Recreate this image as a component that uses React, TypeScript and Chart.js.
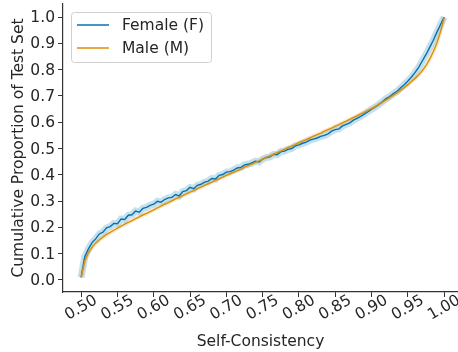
import React, { useEffect, useRef } from "react";
import { Chart, registerables } from "chart.js";

Chart.register(...registerables);

const xValues = [
  0.5, 0.505, 0.51, 0.515, 0.52, 0.525, 0.53, 0.535, 0.54, 0.545,
  0.55, 0.555, 0.56, 0.565, 0.57, 0.575, 0.58, 0.585, 0.59, 0.595,
  0.6, 0.605, 0.61, 0.615, 0.62, 0.625, 0.63, 0.635, 0.64, 0.645,
  0.65, 0.655, 0.66, 0.665, 0.67, 0.675, 0.68, 0.685, 0.69, 0.695,
  0.7, 0.705, 0.71, 0.715, 0.72, 0.725, 0.73, 0.735, 0.74, 0.745,
  0.75, 0.755, 0.76, 0.765, 0.77, 0.775, 0.78, 0.785, 0.79, 0.795,
  0.8, 0.805, 0.81, 0.815, 0.82, 0.825, 0.83, 0.835, 0.84, 0.845,
  0.85, 0.855, 0.86, 0.865, 0.87, 0.875, 0.88, 0.885, 0.89, 0.895,
  0.9, 0.905, 0.91, 0.915, 0.92, 0.925, 0.93, 0.935, 0.94, 0.945,
  0.95, 0.955, 0.96, 0.965, 0.97, 0.975, 0.98, 0.985, 0.99, 0.995,
  1.0,
];

const femaleValues = [
  0.010, 0.088, 0.118, 0.142, 0.156, 0.175, 0.182, 0.198, 0.203, 0.215,
  0.214, 0.232, 0.230, 0.246, 0.248, 0.262, 0.258, 0.272, 0.276, 0.284,
  0.288, 0.299, 0.296, 0.306, 0.312, 0.314, 0.325, 0.320, 0.336, 0.340,
  0.352, 0.347, 0.360, 0.364, 0.372, 0.376, 0.386, 0.384, 0.398, 0.401,
  0.410, 0.412, 0.418, 0.426, 0.428, 0.438, 0.440, 0.445, 0.452, 0.449,
  0.460, 0.466, 0.468, 0.478, 0.476, 0.488, 0.490, 0.497, 0.500, 0.510,
  0.514, 0.520, 0.524, 0.532, 0.536, 0.540, 0.546, 0.550, 0.556, 0.566,
  0.572, 0.575, 0.586, 0.592, 0.598, 0.608, 0.615, 0.622, 0.631, 0.640,
  0.650, 0.658, 0.668, 0.678, 0.690, 0.698, 0.709, 0.718, 0.731, 0.743,
  0.757, 0.772, 0.790, 0.810, 0.834, 0.858, 0.885, 0.912, 0.943, 0.972,
  1.000,
];

const maleValues = [
  0.010, 0.072, 0.104, 0.124, 0.140, 0.152, 0.163, 0.173, 0.181, 0.189,
  0.197, 0.205, 0.212, 0.219, 0.226, 0.233, 0.240, 0.247, 0.253, 0.260,
  0.267, 0.274, 0.281, 0.288, 0.294, 0.301, 0.308, 0.314, 0.321, 0.327,
  0.334, 0.340, 0.347, 0.353, 0.360, 0.366, 0.372, 0.379, 0.385, 0.391,
  0.398, 0.404, 0.410, 0.416, 0.422, 0.429, 0.435, 0.441, 0.447, 0.453,
  0.460, 0.466, 0.472, 0.478, 0.484, 0.490, 0.497, 0.503, 0.509, 0.515,
  0.522, 0.528, 0.534, 0.540, 0.547, 0.553, 0.559, 0.566, 0.572, 0.578,
  0.585, 0.591, 0.598, 0.604, 0.611, 0.618, 0.624, 0.631, 0.638, 0.645,
  0.652, 0.660, 0.668, 0.676, 0.685, 0.694, 0.703, 0.712, 0.722, 0.732,
  0.743, 0.755, 0.767, 0.781, 0.797, 0.816, 0.840, 0.868, 0.902, 0.945,
  1.000,
];

const xTicks = [0.5, 0.55, 0.6, 0.65, 0.7, 0.75, 0.8, 0.85, 0.9, 0.95, 1.0];
const yTicks = [0.0, 0.1, 0.2, 0.3, 0.4, 0.5, 0.6, 0.7, 0.8, 0.9, 1.0];
const seriesNames = ["Female (F)", "Male (M)"];

const BLUE = "#0173b2";
const ORANGE = "#de8f05";
const TEXT = "#262626";
const FONT = "DejaVu Sans";
const FS = 15.5;

export default function App() {
  const ref = useRef<HTMLCanvasElement | null>(null);

  useEffect(() => {
    document.body.style.margin = "0";
    const canvas = ref.current;
    if (!canvas) return;

    const female = xValues.map((x, i) => ({ x, y: femaleValues[i] }));
    const male = xValues.map((x, i) => ({ x, y: maleValues[i] }));

    const overlay = {
      id: "overlay",
      afterDraw(chart: any) {
        const ctx = chart.ctx;
        const xs = chart.scales.x;
        const ys = chart.scales.y;
        const area = chart.chartArea;
        ctx.save();
        ctx.fillStyle = TEXT;
        ctx.font = `${FS}px "${FONT}"`;
        // y tick labels
        ctx.textAlign = "right";
        ctx.textBaseline = "middle";
        yTicks.forEach((v) => {
          ctx.fillText(v.toFixed(1), area.left - 8, ys.getPixelForValue(v) + 1);
        });
        // x tick labels, rotated 30deg, centered under the tick
        ctx.textAlign = "center";
        xTicks.forEach((v) => {
          const px = xs.getPixelForValue(v);
          ctx.save();
          ctx.translate(px, area.bottom + 16);
          ctx.rotate((-30 * Math.PI) / 180);
          ctx.fillText(v.toFixed(2), 0, 0);
          ctx.restore();
        });
        // legend
        const lx = 71.5, ly = 12.5, lw = 140, lh = 50, r = 3;
        ctx.beginPath();
        ctx.moveTo(lx + r, ly);
        ctx.lineTo(lx + lw - r, ly);
        ctx.arcTo(lx + lw, ly, lx + lw, ly + r, r);
        ctx.lineTo(lx + lw, ly + lh - r);
        ctx.arcTo(lx + lw, ly + lh, lx + lw - r, ly + lh, r);
        ctx.lineTo(lx + r, ly + lh);
        ctx.arcTo(lx, ly + lh, lx, ly + lh - r, r);
        ctx.lineTo(lx, ly + r);
        ctx.arcTo(lx, ly, lx + r, ly, r);
        ctx.closePath();
        ctx.fillStyle = "rgba(255,255,255,0.85)";
        ctx.fill();
        ctx.strokeStyle = "#d0d0d0";
        ctx.lineWidth = 1;
        ctx.stroke();
        const colors = [BLUE, ORANGE];
        const rows = [25, 48];
        seriesNames.forEach((name, i) => {
          ctx.beginPath();
          ctx.strokeStyle = colors[i];
          ctx.lineWidth = 1.5;
          ctx.moveTo(77, rows[i]);
          ctx.lineTo(109, rows[i]);
          ctx.stroke();
          ctx.fillStyle = TEXT;
          ctx.textAlign = "left";
          ctx.textBaseline = "middle";
          ctx.fillText(name, 122, rows[i] + 1);
        });
        ctx.restore();
      },
    };

    const chart = new Chart(canvas, {
      type: "line",
      data: {
        datasets: [
          {
            label: "female band",
            data: female,
            borderColor: "rgba(1,115,178,0.22)",
            borderWidth: 7,
            pointRadius: 0,
            tension: 0,
            order: 4,
          },
          {
            label: "male band",
            data: male,
            borderColor: "rgba(222,143,5,0.2)",
            borderWidth: 4,
            pointRadius: 0,
            tension: 0,
            order: 3,
          },
          {
            label: seriesNames[0],
            data: female,
            borderColor: BLUE,
            borderWidth: 1.4,
            pointRadius: 0,
            tension: 0,
            order: 2,
          },
          {
            label: seriesNames[1],
            data: male,
            borderColor: ORANGE,
            borderWidth: 1.4,
            pointRadius: 0,
            tension: 0,
            order: 1,
          },
        ],
      },
      options: {
        responsive: false,
        animation: false,
        layout: { padding: { top: 4, right: 0, bottom: 0, left: 0 } },
        plugins: {
          legend: { display: false },
          tooltip: { enabled: false },
        },
        scales: {
          x: {
            type: "linear",
            min: 0.475,
            max: 1.019,
            afterBuildTicks: (scale: any) => {
              scale.ticks = xTicks.map((v) => ({ value: v }));
            },
            afterFit: (scale: any) => {
              scale.height = 60;
            },
            ticks: { display: false, autoSkip: false },
            grid: {
              display: true,
              drawOnChartArea: false,
              drawTicks: true,
              tickLength: 5,
              color: "#333333",
              lineWidth: 1,
            },
            border: { display: true, color: "#333333", width: 1.2 },
            title: {
              display: true,
              text: "Self-Consistency",
              color: TEXT,
              font: { family: FONT, size: FS },
              padding: { top: 0, bottom: 1 },
            },
          },
          y: {
            type: "linear",
            min: -0.046,
            max: 1.05,
            afterBuildTicks: (scale: any) => {
              scale.ticks = yTicks.map((v) => ({ value: v }));
            },
            afterFit: (scale: any) => {
              scale.width = 63;
            },
            ticks: { display: false, autoSkip: false },
            grid: {
              display: true,
              drawOnChartArea: false,
              drawTicks: true,
              tickLength: 5,
              color: "#333333",
              lineWidth: 1,
            },
            border: { display: true, color: "#333333", width: 1.2 },
            title: {
              display: true,
              text: "Cumulative Proportion of Test Set",
              color: TEXT,
              font: { family: FONT, size: FS },
              padding: { top: 10, bottom: 0 },
            },
          },
        },
      },
      plugins: [overlay],
    });

    return () => chart.destroy();
  }, []);

  return (
    <div style={{ width: 458, height: 352 }}>
      <canvas ref={ref} width={458} height={352} style={{ display: "block" }} />
    </div>
  );
}
